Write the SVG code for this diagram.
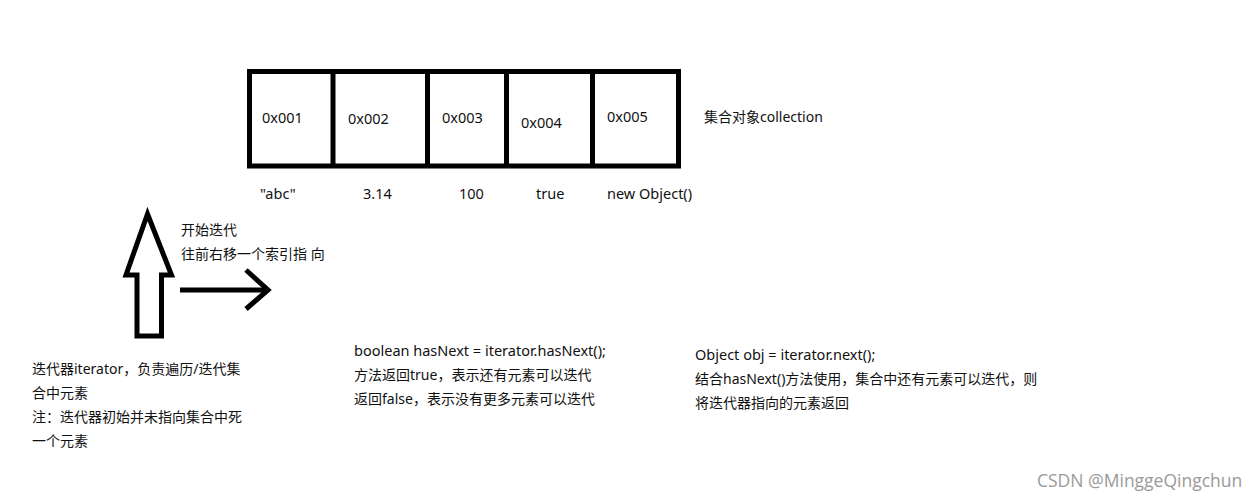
<svg xmlns="http://www.w3.org/2000/svg" width="1257" height="500" viewBox="0 0 1257 500">
<style>
.t{font-family:"Noto Sans","Noto Sans CJK SC",sans-serif;font-size:14px;fill:#111}
.l{font-size:14.5px}
.box{fill:none;stroke:#000;stroke-width:5}
.ln{fill:none;stroke:#000;stroke-width:5;stroke-linejoin:miter}
.wm{font-family:"Open Sans","Noto Sans",sans-serif;font-size:17.5px;fill:#9a9a9a}
</style>
<rect width="1257" height="500" fill="#fff"/>
<g id="collection">
<rect class="box" x="249.5" y="71.5" width="429" height="94.5"/>
<line class="ln" x1="333" y1="71.5" x2="333" y2="166"/>
<line class="ln" x1="427.5" y1="71.5" x2="427.5" y2="166"/>
<line class="ln" x1="506.5" y1="71.5" x2="506.5" y2="166"/>
<line class="ln" x1="592.5" y1="71.5" x2="592.5" y2="166"/>
<text class="t l" x="262" y="123">0x001</text>
<text class="t l" x="348" y="124">0x002</text>
<text class="t l" x="442" y="123">0x003</text>
<text class="t l" x="521" y="128">0x004</text>
<text class="t l" x="607" y="122">0x005</text>
<text class="t" x="704" y="122">集合对象collection</text>
</g>
<g id="values">
<text class="t l" x="260" y="199">"abc"</text>
<text class="t l" x="363" y="199">3.14</text>
<text class="t l" x="459" y="199">100</text>
<text class="t l" x="536" y="199">true</text>
<text class="t l" x="607" y="199">new Object()</text>
</g>
<g id="iterator-arrow">
<polygon class="ln" points="147.5,214 126,275 137,275 137,336 161.5,336 161.5,275 171.5,275"/>
</g>
<g id="connectors">
<line class="ln" x1="180" y1="290" x2="268" y2="290"/>
<polyline class="ln" points="246,270 268,290 246,309"/>
</g>
<g id="move-label">
<text class="t" x="181" y="235">开始迭代</text>
<text class="t" x="181" y="259">往前右移一个索引指 向</text>
</g>
<g id="iterator-note">
<text class="t" x="32" y="374">迭代器iterator，负责遍历/迭代集</text>
<text class="t" x="32" y="398">合中元素</text>
<text class="t" x="32" y="422">注：迭代器初始并未指向集合中死</text>
<text class="t" x="32" y="446">一个元素</text>
</g>
<g id="hasnext-note">
<text class="t l" x="354" y="356">boolean hasNext = iterator.hasNext();</text>
<text class="t" x="354" y="380">方法返回true，表示还有元素可以迭代</text>
<text class="t" x="354" y="404">返回false，表示没有更多元素可以迭代</text>
</g>
<g id="next-note">
<text class="t l" x="695" y="360">Object obj = iterator.next();</text>
<text class="t" x="695" y="384">结合hasNext()方法使用，集合中还有元素可以迭代，则</text>
<text class="t" x="695" y="408">将迭代器指向的元素返回</text>
</g>
<text class="wm" x="1037" y="487">CSDN @MinggeQingchun</text>
</svg>
